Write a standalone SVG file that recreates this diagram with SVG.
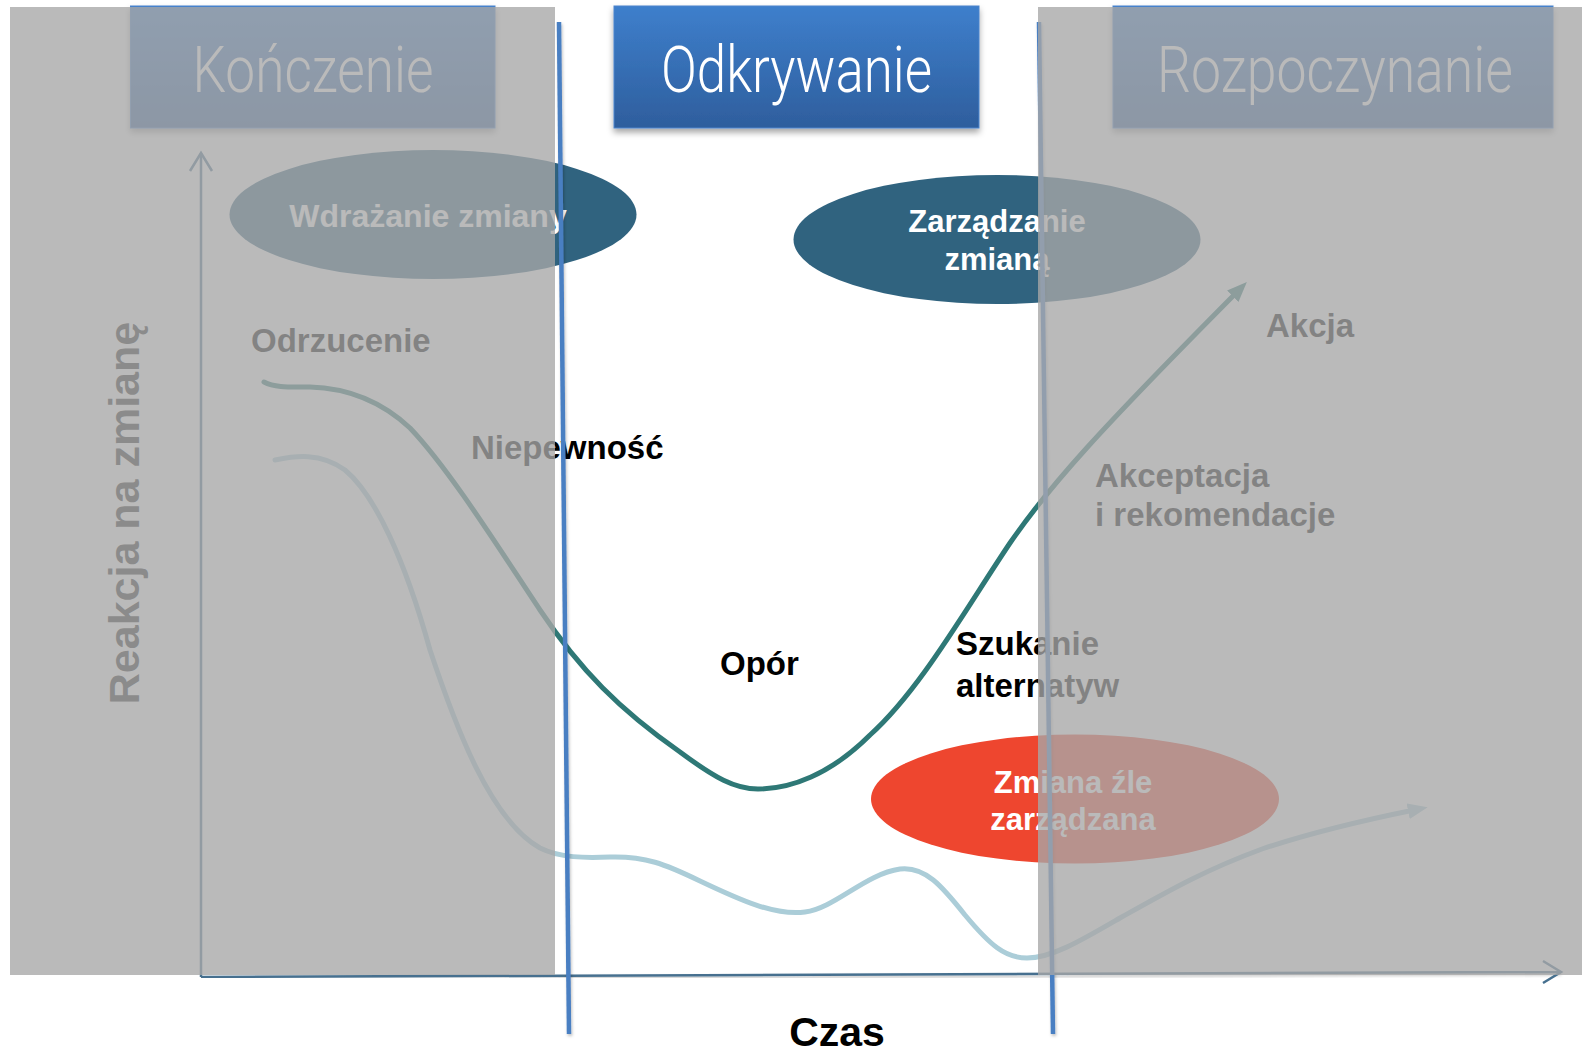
<svg xmlns="http://www.w3.org/2000/svg" width="1585" height="1055" viewBox="0 0 1585 1055">
  <defs>
    <style>
      .title { font-family: Roboto, "Liberation Sans", sans-serif; font-weight: 300; font-size: 64px; fill: #ffffff; }
      .lbl { font-family: "Liberation Sans", Arial, sans-serif; font-weight: bold; font-size: 33px; fill: #000000; }
      .oval-txt { font-family: "Liberation Sans", Arial, sans-serif; font-weight: bold; font-size: 31px; fill: #ffffff; text-anchor: middle; }
      .axis { fill: none; stroke: #46708f; stroke-width: 2.5; }
      .divider { stroke: #4a7fc2; stroke-width: 4.5; }
      .shade { fill: #a7a7a7; fill-opacity: 0.786; }
    </style>
    <linearGradient id="boxGrad" x1="0" y1="0" x2="0" y2="1">
      <stop offset="0" stop-color="#3e7fcc"/>
      <stop offset="1" stop-color="#2e5e9d"/>
    </linearGradient>
    <filter id="boxShadow" x="-5%" y="-10%" width="110%" height="130%">
      <feDropShadow dx="0" dy="4" stdDeviation="3" flood-color="#000" flood-opacity="0.35"/>
    </filter>
    <filter id="lineShadow" x="-50%" y="-2%" width="200%" height="104%">
      <feDropShadow dx="1" dy="2" stdDeviation="1.5" flood-color="#000" flood-opacity="0.25"/>
    </filter>
    <marker id="headDark" viewBox="0 0 20 16" refX="6" refY="8" markerWidth="20" markerHeight="16" markerUnits="userSpaceOnUse" orient="auto">
      <path d="M0,0 L20,8 L0,16 Z" fill="#2e7876"/>
    </marker>
    <marker id="headLight" viewBox="0 0 20 16" refX="6" refY="8" markerWidth="20" markerHeight="16" markerUnits="userSpaceOnUse" orient="auto">
      <path d="M0,0 L20,8 L0,16 Z" fill="#abcdd8"/>
    </marker>
  </defs>

  <rect x="0" y="0" width="1585" height="1055" fill="#ffffff"/>

  <!-- phase headers -->
  <g id="phase-konczenie" filter="url(#boxShadow)">
    <rect x="130.5" y="6" width="364.5" height="122" fill="url(#boxGrad)" stroke="#4a84cc" stroke-width="1"/>
    <text class="title" x="313" y="92" text-anchor="middle" textLength="241" lengthAdjust="spacingAndGlyphs">Kończenie</text>
  </g>
  <g id="phase-odkrywanie" filter="url(#boxShadow)">
    <rect x="614" y="6" width="365" height="122" fill="url(#boxGrad)" stroke="#4a84cc" stroke-width="1"/>
    <text class="title" x="796.5" y="92" text-anchor="middle" textLength="271" lengthAdjust="spacingAndGlyphs">Odkrywanie</text>
  </g>
  <g id="phase-rozpoczynanie" filter="url(#boxShadow)">
    <rect x="1113" y="6" width="440" height="122" fill="url(#boxGrad)" stroke="#4a84cc" stroke-width="1"/>
    <text class="title" x="1335" y="92" text-anchor="middle" textLength="356" lengthAdjust="spacingAndGlyphs">Rozpoczynanie</text>
  </g>

  <!-- ovals -->
  <g id="oval-wdrazanie">
    <ellipse cx="433" cy="214.5" rx="203.5" ry="64.5" fill="#30637f"/>
    <text class="oval-txt" x="428" y="227" style="font-size:32px">Wdrażanie zmiany</text>
  </g>
  <g id="oval-zarzadzanie">
    <ellipse cx="997" cy="239.5" rx="203.5" ry="64.5" fill="#30637f"/>
    <text class="oval-txt" x="997" y="232">Zarządzanie</text>
    <text class="oval-txt" x="997" y="270">zmianą</text>
  </g>
  <g id="oval-zle">
    <ellipse cx="1075" cy="799" rx="204" ry="64.5" fill="#ee462f"/>
    <text class="oval-txt" x="1073" y="793">Zmiana źle</text>
    <text class="oval-txt" x="1073" y="830">zarządzana</text>
  </g>

  <!-- axes and reaction curves -->
  <g id="connectors">
    <path class="axis" d="M201,977 L201,153"/>
    <path class="axis" d="M190,171 L201,153 L212,171"/>
    <path class="axis" d="M201,977 L1560,972" filter="url(#lineShadow)"/>
    <path class="axis" d="M1543,961 L1561,972 L1543,983"/>
    <path d="M275,460 C295,456 320,452 345,470 C375,495 405,560 430,650 C455,725 490,820 540,848 C560,858 585,858 610,857 C645,856 665,864 700,881 C740,900 775,916 805,912 C835,908 865,874 900,869 C925,866 942,886 965,915 C990,945 1005,958 1027,958 C1052,958 1082,940 1120,918 C1170,890 1205,870 1262,849 C1310,833 1360,821 1414,810" fill="none" stroke="#abcdd8" stroke-width="5" stroke-linecap="round" marker-end="url(#headLight)"/>
    <path d="M264,382 C275,388 290,387 310,387 C345,388 380,400 410,428 C450,470 500,550 540,610 C580,670 620,710 680,752 C715,778 735,789 758,789 C790,789 830,775 870,735 C920,690 965,610 1010,543 C1050,485 1100,430 1237,292" fill="none" stroke="#2e7876" stroke-width="5" stroke-linecap="round" marker-end="url(#headDark)"/>
  </g>

  <!-- stage labels -->
  <g id="label-reakcja">
    <text class="lbl" x="0" y="0" text-anchor="middle" transform="translate(139,513) rotate(-90)" style="font-size:43px;fill:#262626">Reakcja na zmianę</text>
  </g>
  <g id="label-odrzucenie"><text class="lbl" x="251" y="352">Odrzucenie</text></g>
  <g id="label-niepewnosc"><text class="lbl" x="471" y="459">Niepewność</text></g>
  <g id="label-opor"><text class="lbl" x="720" y="675">Opór</text></g>
  <g id="label-szukanie">
    <text class="lbl" x="956" y="655">Szukanie</text>
    <text class="lbl" x="956" y="697">alternatyw</text>
  </g>
  <g id="label-akceptacja">
    <text class="lbl" x="1095" y="487">Akceptacja</text>
    <text class="lbl" x="1095" y="526">i rekomendacje</text>
  </g>
  <g id="label-akcja"><text class="lbl" x="1266" y="337">Akcja</text></g>
  <g id="label-czas"><text class="lbl" x="837" y="1046" text-anchor="middle" style="font-size:41px">Czas</text></g>

  <!-- phase boundaries -->
  <g id="dividers" filter="url(#lineShadow)">
    <line class="divider" x1="559" y1="22" x2="569" y2="1034"/>
    <line class="divider" x1="1039" y1="22" x2="1053" y2="1034"/>
  </g>

  <!-- shading over the inactive phases -->
  <g id="shading">
    <rect class="shade" x="10" y="7" width="545" height="968"/>
    <rect class="shade" x="1038" y="7" width="544" height="968"/>
  </g>
</svg>
